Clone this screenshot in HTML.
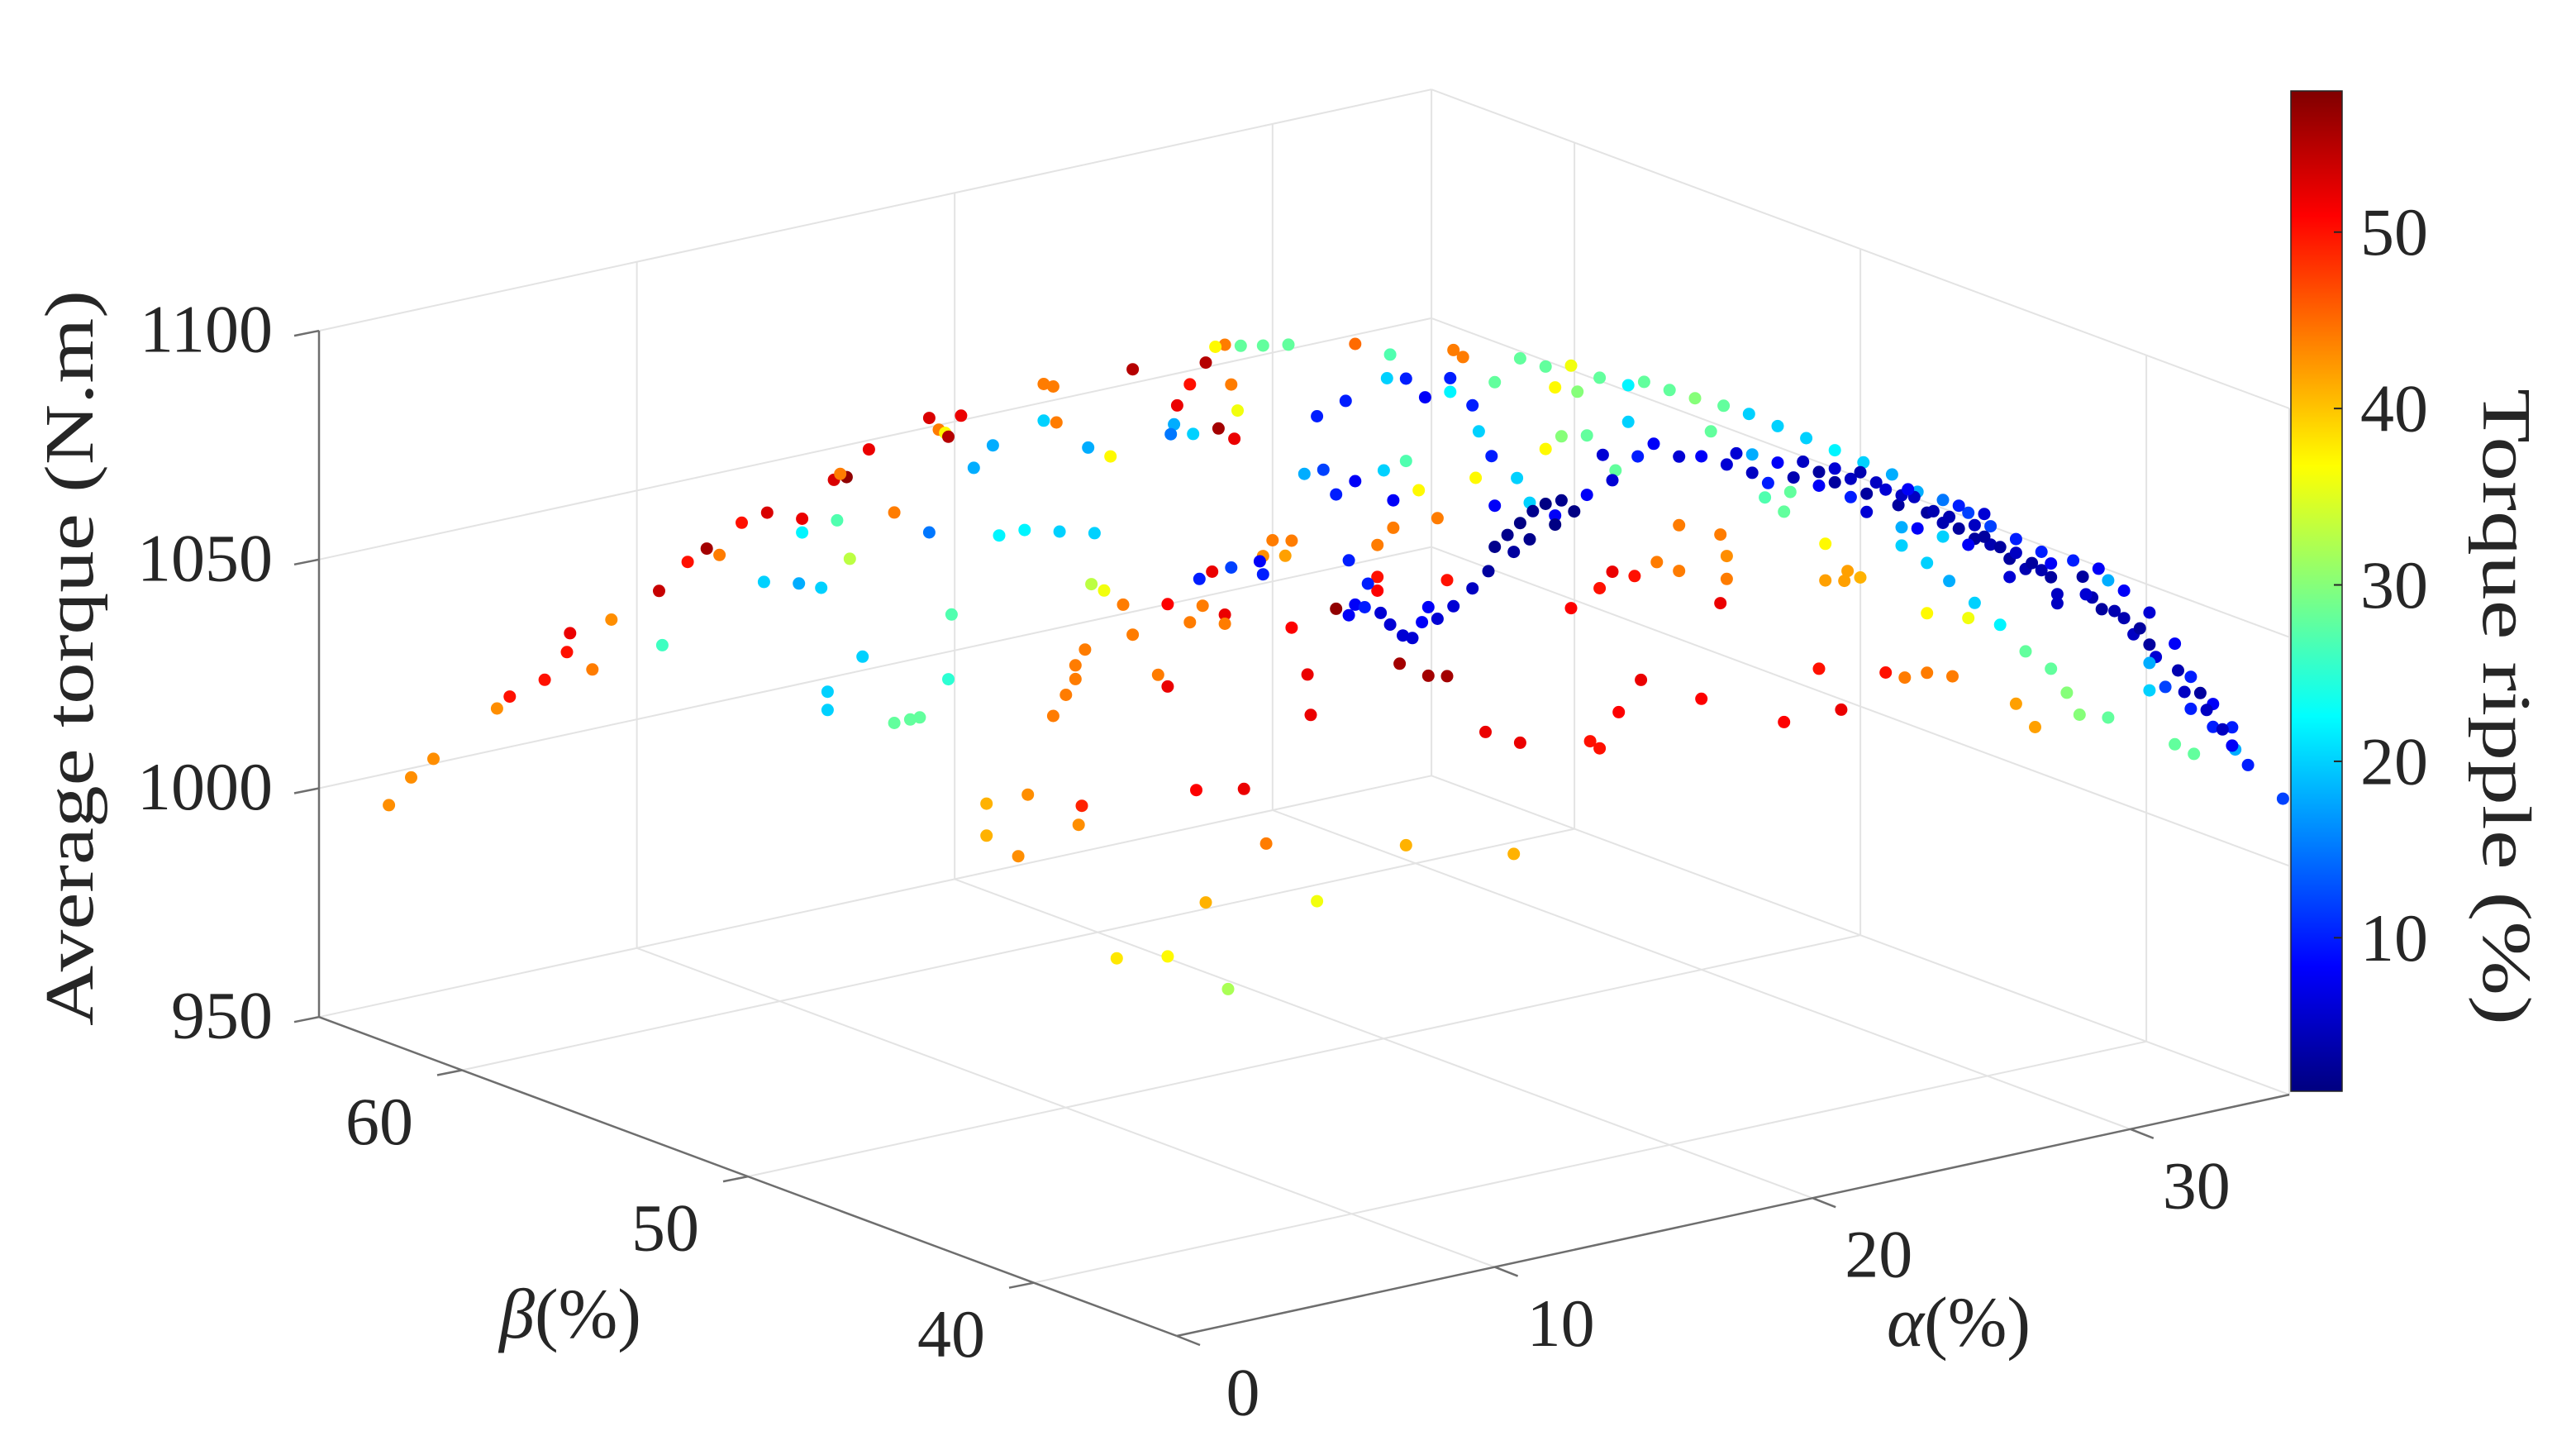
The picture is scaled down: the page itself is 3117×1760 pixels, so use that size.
<!DOCTYPE html>
<html><head><meta charset="utf-8"><title>Torque scatter 3D</title>
<style>
html,body{margin:0;padding:0;background:#fff;}
svg{display:block;font-family:"Liberation Serif",serif;}
</style></head>
<body>
<svg id="chart" xmlns="http://www.w3.org/2000/svg" width="3117" height="1760" viewBox="0 0 3117 1760">
<defs><linearGradient id="jetgrad" x1="0" y1="1" x2="0" y2="0"></linearGradient></defs>
<g id="grid"></g>
<g id="axes"></g>
<g id="points"></g>
<g id="cbar"></g>
<text x="0" y="0" transform="translate(112,796) rotate(-90)" text-anchor="middle" font-size="84" fill="#262626" textLength="890" lengthAdjust="spacingAndGlyphs">Average torque (N.m)</text>
<text x="690" y="1618" text-anchor="middle" font-size="86" fill="#262626"><tspan font-style="italic">β</tspan>(%)</text>
<text x="2370" y="1628" text-anchor="middle" font-size="86" fill="#262626"><tspan font-style="italic">α</tspan>(%)</text>
<text x="0" y="0" transform="translate(3005,855) rotate(90)" text-anchor="middle" font-size="84" fill="#262626" textLength="770" lengthAdjust="spacingAndGlyphs">Torque ripple  (%)</text>
</svg>
<script>
const groupBeta=[65,40,35];
const alphaL=[2.2,2.9,3.6,5.6,6.0,7.1,7.8,7.9,8.6,9.2,10.8,10.7,11.6,12.2,12.6,13.3,14.0,14.1,15.2,15.1,15.2,15.8,16.0,16.0,16.3,16.2,16.6,16.4,16.7,17.3,17.1,18.1,18.6,18.9,18.1,19.2,19.5,19.2,19.7,19.8,20.2,19.9,19.8,20.6,21.2,21.0,21.0,21.4,22.0,22.3,22.8,23.1,22.8,23.2,22.2,23.3,23.1,23.5,23.8,23.8,24.1,23.9,24.0,24.2,24.4,24.3,24.7,24.9,25.3,25.6,25.6,26.4,26.7,26.7,26.9,26.8,27.0,27.4,27.9,28.5,28.2,29.0,28.7,28.9,28.8,28.3,29.7,30.5,31.4,31.0,30.6,30.0,30.4,29.7,29.6,29.7,28.7,27.7,28.1,28.5,27.8,27.4,30.6,28.5,27.6,29.1,29.8,27.9,31.4,25.1,26.7,28.6,31.1,31.2,32.0,32.4,32.6,32.9,32.4,33.4,33.7,34.1,34.4,34.7,34.9,33.3,33.3,33.3,34.0,34.9,34.2,32.6,33.7,33.6,34.2,34.8,32.3,31.6,32.6,33.5,32.0,33.8,34.2,34.6,33.8,33.0,36.7,27.5];
const torqueL=[993,998,1001,1009,1011,1013,1018,1022,1013,1023,1015,1027,1032,1034,1032,1038,1024,1039,1036,1022,1033,1020,993,997,1034,1043,1043,1044,1025,1048,1003,987,987,987,1033,1052,1049,1027,1048,1047,1051,1008,994,1039,1043,958,965,1023,952,965,1054,1053,1046,1045,1023,1021,981,985,988,991,994,956,960,1038,1019,1008,1006,1035,1002,1053,995,985,1000,982,1039,1037,1043,1047,1051,1054,1054,1053,1045,1039,1033,1036,1052,1051,1034,1022,1008,1009,1005,1006,1005,1002,1005,1004,1005,995,998,995,989,993,958,956,943,933,928,925,923,913,978,969,991,1001,991,990,989,988,985,982,981,984,987,1003,996,993,976,972,936,1048,1044,1039,1038,1033,1036,1022,1018,1019,1016,1012,1020,1013,1006,995,957,1036];
const rippleL=[43,43,43,43,50,50,50,52,44,43,26,54,50,56,44,50,20,53,52,18,22,20,20,20,27,53,57,44,33,52,20,28,28,28,44,53,44,15,37,55,52,27,25,18,18,41,41,22,43,43,44,44,20,44,22,20,44,44,44,44,44,43,49,18,20,33,36,37,44,55,44,44,51,52,18,15,52,50,55,44,37,28,44,36,52,56,28,28,10,18,44,44,42,43,8,10,12,10,52,52,44,44,51,44,51,52,44,41,36,38,37,32,52,52,57,10,8,10,8,6,6,6,6,8,8,44,50,51,56,56,41,45,27,20,10,8,10,12,8,20,10,8,27,37,44,10,52,20];
const alphaM=[13.2,13.5,13.1,13.8,14.5,15.3,16.1,16.9,16.4,17.1,17.8,18.7,19.2,20.0,20.8,21.7,22.5,23.4,24.3,25.2,26.1,27.0,27.8,28.6,29.4,30.1,30.9,31.7,19.5,20.3,21.0,21.8,22.6,23.4,23.9,24.7,25.2,25.7,26.2,26.8,27.2,27.7,28.1,28.6,29.1,29.6,30.1,30.7,31.2,32.0,26.2,27.8,29.4,30.7,32.2,29.9,24.7,23.1,27.3,28.1,28.8,29.6,30.4,31.2,32.0,32.5,23.8,23.0,23.6,24.9,25.6,24.9,25.5,26.0,28.1,29.4,30.9,31.5,28.9,28.1,27.4,26.8,25.4,24.7,23.6,21.0,19.1,18.4,17.8,19.6,20.3,20.3,21.6,21.8,21.8,21.6,18.9,18.2,17.8,16.9,15.1,12.7,13.0,13.0,13.1,14.0,14.4,15.2,16.1,16.6,17.4,18.7,18.3,17.9,19.0,13.9,14.5,15.6,16.4,14.5,14.9,15.3,15.7,16.1,16.6,17.0,15.6,15.1,14.3,13.8,13.2,12.7,16.4,17.4,18.2,15.3,17.5,22.1,24.2,26.0,27.3,28.8,30.4,31.7,32.2,25.2,26.5,27.5,28.3,29.1,29.6,29.9,30.9,31.4,32.0,25.7,22.6,21.3,27.3,28.6];
const torqueM=[1134,1132,1128,1121,1125,1129,1126,1125,1121,1119,1121,1118,1118,1115,1112,1109,1106,1102,1098,1094,1090,1086,1081,1078,1074,1070,1066,1062,1104,1100,1099,1096,1093,1094,1090,1090,1087,1087,1083,1083,1079,1080,1076,1073,1071,1068,1066,1062,1059,1056,1079,1073,1067,1058,1052,1073,1087,1090,1070,1065,1060,1054,1048,1041,1036,1030,1087,1087,1083,1074,1067,1066,1065,1065,1054,1051,1030,1024,1039,1041,1041,1043,1037,1047,1037,1046,1053,1047,1040,1078,1075,1085,1081,1076,1071,1066,1076,1078,1075,1072,1021,1098,1084,1063,1125,1115,1109,1103,1108,1110,1109,1110,1100,1104,1102,1105,1098,1097,1093,1089,1091,1093,1095,1096,1096,1093,1089,1087,1084,1081,1078,1076,1091,1096,1098,1045,1042,1098,1093,1088,1081,1074,1065,1058,1050,1090,1085,1082,1076,1076,1071,1068,1063,1060,1059,1083,1097,1104,1074,1070];
const rippleM=[44,44,10,10,28,28,28,36,37,30,28,22,28,28,30,28,20,20,20,22,20,18,18,15,12,12,10,10,8,6,8,6,5,8,4,3,3,5,3,6,3,5,3,4,3,3,4,3,4,3,6,8,8,6,5,6,8,10,20,20,18,20,22,28,28,30,28,27,28,37,42,42,42,41,37,36,42,42,44,44,44,50,52,50,51,51,52,51,50,44,44,44,44,43,44,52,50,52,50,51,41,44,50,56,22,20,10,20,37,30,28,20,28,6,10,37,8,20,8,2,2,1.5,2,1.5,2,1.5,2,3,3,5,6,6,1.5,8,6,52,50,6,5,4,5,4,3,4,5,6,5,8,4,10,5,3,5,3,8,10,18,28,18,20];
const alphaR=[28.2,29.0,29.8,30.6,31.4,31.9,32.6,33.2,33.3,34.8,28.8,29.5,30.1,28.5,29.3,31.1,31.9,32.6,31.4,32.0,30.6,28.4,29.3,30.6,31.5,32.2,32.9,28.6,29.1,29.8,30.3,30.8,31.7,32.4,33.2,33.7,30.6];
const torqueR=[1077,1074,1068,1062,1054,1046,1039,1033,1028,1015,1068,1064,1058,1073,1071,1045,1039,1034,1032,1029,1045,1043,1041,1055,1048,1042,1033,1069,1065,1062,1059,1052,1043,1038,1029,1024,1051];
const rippleR=[10,8,8,6,8,10,8,10,18,12,4,4,5,3,18,12,10,10,28,28,20,30,28,3,4,3,5,6,3,4,3,6,5,5,8,10,18];
const zTicks=[950,1000,1050,1100];
const alphaTicks=[0,10,20,30];
const betaTicks=[40,50,60];
const cbarTicks=[10,20,30,40,50];
const alphaLim=[0,35], betaLim=[35,65], zLim=[950,1100], cLim=[1.3,58];

const NS='http://www.w3.org/2000/svg';
function P(a,b,z){return [2*(712+19.23*(a-alphaLim[0])-17.3*(b-betaLim[0])),2*(808-4.17*(a-alphaLim[0])-6.43*(b-betaLim[0])-2.767*(z-zLim[0]))];}
function clamp(v){return Math.max(0,Math.min(1,v));}
function jet(t){t=clamp(t);const r=clamp(1.5-Math.abs(4*t-3)),g=clamp(1.5-Math.abs(4*t-2)),b=clamp(1.5-Math.abs(4*t-1));return 'rgb('+Math.round(r*255)+','+Math.round(g*255)+','+Math.round(b*255)+')';}
function cval(v){return (v-cLim[0])/(cLim[1]-cLim[0]);}
function mk(tag,attrs,parent){const e=document.createElementNS(NS,tag);for(const k in attrs)e.setAttribute(k,attrs[k]);parent.appendChild(e);return e;}
function seg(p,q,col,w,parent,name){const l=mk('line',{x1:p[0],y1:p[1],x2:q[0],y2:q[1],stroke:col,'stroke-width':w},parent);return l;}

const grid=document.getElementById('grid'),axes=document.getElementById('axes'),pts=document.getElementById('points'),cb=document.getElementById('cbar');
const GC='#e3e3e3';
const a0=alphaLim[0],a1=alphaLim[1],b0=betaLim[0],b1=betaLim[1],z0=zLim[0],z1=zLim[1];
[10,20,30].forEach(a=>seg(P(a,b1,z0),P(a,b1,z1),GC,2,grid,'grid-alpha-wall'));
seg(P(a1,b1,z0),P(a1,b1,z1),GC,2,grid,'box-back-edge');
zTicks.forEach(z=>{seg(P(a0,b1,z),P(a1,b1,z),GC,2,grid,'grid-z-left-wall');seg(P(a1,b1,z),P(a1,b0,z),GC,2,grid,'grid-z-right-wall');});
betaTicks.forEach(b=>seg(P(a1,b,z0),P(a1,b,z1),GC,2,grid,'grid-beta-wall'));
seg(P(a1,b0,z0),P(a1,b0,z1),GC,2,grid,'box-right-edge');
alphaTicks.forEach(a=>{if(a>a0)seg(P(a,b0,z0),P(a,b1,z0),GC,2,grid,'grid-alpha-floor');});
betaTicks.forEach(b=>seg(P(a0,b,z0),P(a1,b,z0),GC,2,grid,'grid-beta-floor'));
const AC='#6e6e6e';
seg(P(a0,b1,z0),P(a0,b1,z1),AC,2.5,axes,'z-axis-line');
seg(P(a0,b0,z0),P(a0,b1,z0),AC,2.5,axes,'beta-axis-line');
seg(P(a0,b0,z0),P(a1,b0,z0),AC,2.5,axes,'alpha-axis-line');
function txt(x,y,s,anchor,name,parent){const t=mk('text',{x:x,y:y,'font-size':82,fill:'#262626','text-anchor':anchor,'dominant-baseline':'central'},parent);t.textContent=s;return t;}
zTicks.forEach(z=>{const p=P(a0,b1,z);seg(p,[p[0]-30,p[1]+6],AC,2.5,axes,'z-tick');txt(p[0]-56,p[1]-2,String(z),'end','z-tick-label',axes);});
alphaTicks.forEach(a=>{const p=P(a,b0,z0);seg(p,[p[0]+28,p[1]+11],AC,2.5,axes,'alpha-tick');txt(p[0]+80,p[1]+68,String(a),'middle','alpha-tick-label',axes);});
betaTicks.forEach(b=>{const p=P(a0,b,z0);seg(p,[p[0]-30,p[1]+6],AC,2.5,axes,'beta-tick');txt(p[0]-100,p[1]+62,String(b),'middle','beta-tick-label',axes);});
function drawGroup(al,zt,rp,beta){for(let i=0;i<al.length;i++){const p=P(al[i],beta,zt[i]);const c=mk('circle',{cx:p[0].toFixed(1),cy:p[1].toFixed(1),r:7.5,fill:jet(cval(rp[i]))},pts);

}}
drawGroup(alphaL,torqueL,rippleL,groupBeta[0]);
drawGroup(alphaM,torqueM,rippleM,groupBeta[1]);
drawGroup(alphaR,torqueR,rippleR,groupBeta[2]);
const g=document.getElementById('jetgrad');
for(let i=0;i<=32;i++){mk('stop',{offset:(i/32),'stop-color':jet(i/32)},g);}
const CX=2772,CW=62,CT=110,CB=1320;
const bar=mk('rect',{x:CX,y:CT,width:CW,height:CB-CT,fill:'url(#jetgrad)',stroke:'#262626','stroke-width':1.5},cb);


cbarTicks.forEach(v=>{const y=CB-cval(v)*(CB-CT);seg([CX+CW-10,y],[CX+CW,y],'#262626',2,cb,'colorbar-tick');txt(CX+CW+22,y,String(v),'start','colorbar-tick-label',cb);});
</script>
</body></html>
